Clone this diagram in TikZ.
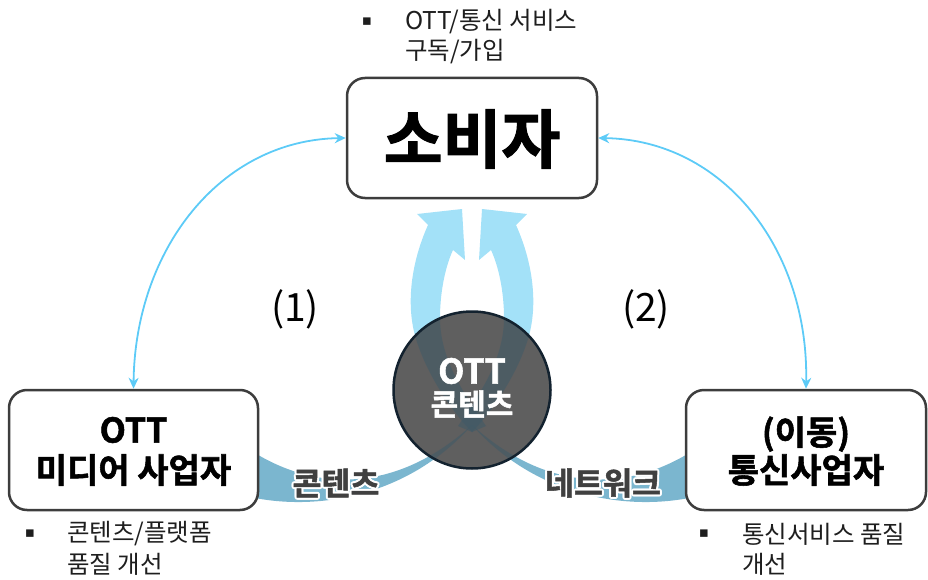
\documentclass[tikz,border=0pt]{standalone}
\usepackage{fontspec}
\setmainfont{Noto Sans CJK KR}[BoldFont={Noto Sans CJK KR Bold}]
\newfontfamily\myheavy{Noto Sans CJK KR Bold}[FakeBold=1.6]
\newfontfamily\dejavu{DejaVu Sans}
\usetikzlibrary{arrows.meta}
\definecolor{boxline}{HTML}{3D3D3D}
\definecolor{uparrow}{HTML}{A3E1F8}
\definecolor{bandcol}{HTML}{7BB6CF}
\definecolor{thinarrow}{HTML}{5DCBF7}
\definecolor{circfill}{HTML}{5F5F5F}
\definecolor{circline}{HTML}{13222F}
\definecolor{inband}{HTML}{3F5A68}
\definecolor{txt}{HTML}{1E1E1E}
\definecolor{lbl}{HTML}{404040}
\newcommand\myBandL{(250,450) .. controls (320,495) and (400,490) .. (472,425) .. controls (410,495) and (320,512) .. (250,497) -- cycle}
\newcommand\myBandR{(694,450) .. controls (624,495) and (544,490) .. (472,425) .. controls (534,495) and (624,512) .. (694,497) -- cycle}
\newcommand\myUpL{(428,225) .. controls (410,265) and (405,310) .. (418,345) .. controls (430,380) and (455,415) .. (472,432) -- (486,426) .. controls (465,395) and (440,360) .. (440,318) .. controls (440,290) and (446,265) .. (453,250) -- (465,260) -- (462,209) -- (417,214) -- cycle}
\newcommand\myUpR{(516,225) .. controls (534,265) and (539,310) .. (526,345) .. controls (514,380) and (489,415) .. (472,432) -- (458,426) .. controls (479,395) and (504,360) .. (504,318) .. controls (504,290) and (498,265) .. (491,250) -- (479,260) -- (482,209) -- (527,214) -- cycle}
\tikzset{
  mainbox/.style={draw=boxline, line width=2.5pt, rounded corners=18pt, fill=white, inner sep=0pt, align=center, text=black},
  boxtext/.style={font=\myheavy\fontsize{34}{40}\selectfont},
  bullettext/.style={font=\fontsize{24.5}{28}\selectfont, text=txt, anchor=west, inner sep=0pt},
  bulletmark/.style={font=\dejavu\fontsize{15}{18}\selectfont, text=txt, inner sep=0pt},
  bandlbl/.style={font=\myheavy\fontsize{31.5}{34}\selectfont, text=lbl, inner sep=0pt},
  numlbl/.style={font=\fontsize{39}{42}\selectfont, text=black, inner sep=0pt},
  dbl/.style={draw=thinarrow, line width=1.8pt, {Stealth[length=11pt,width=10pt]}-{Stealth[length=11pt,width=10pt]}}
}
\begin{document}
\begin{tikzpicture}[x=1pt,y=-1pt]
\useasboundingbox (0,0) rectangle (928,580);
% bands and arrows under everything
\fill[bandcol] \myBandL;
\fill[bandcol] \myBandR;
\fill[uparrow] \myUpL;
\fill[uparrow] \myUpR;
% boxes
\node[mainbox, minimum width=250pt, minimum height=120pt] (cons) at (472,138) {};
\node[font=\myheavy\fontsize{64}{66}\selectfont, inner sep=0pt] (consT) at (472,139) {소비자};
\node[mainbox, minimum width=249pt, minimum height=120pt] (ott) at (133.5,450) {};
\node[boxtext, inner sep=0pt] (ottA) at (133.5,430) {OTT};
\node[boxtext, inner sep=0pt] (ottB) at (133.5,470) {미디어 사업자};
\node[mainbox, minimum width=240pt, minimum height=120pt] (tel) at (806,450) {};
\node[boxtext, inner sep=0pt] (telA) at (806,434) {(이동)};
\node[boxtext, inner sep=0pt] (telB) at (806,470) {통신사업자};
% circle
\node[circle, fill=circfill, minimum size=157pt, inner sep=0pt] (circ) at (472,390) {};
\begin{scope}
  \clip (circ.center) circle (78pt);
  \fill[inband, opacity=0.55] \myBandL;
  \fill[inband, opacity=0.55] \myBandR;
  \fill[inband, opacity=0.55] \myUpL;
  \fill[inband, opacity=0.55] \myUpR;
\end{scope}
\draw[circline, line width=2.5pt] (circ.center) circle (78.5pt);
\node[font=\myheavy\fontsize{34}{36}\selectfont, text=white, inner sep=0pt] (circA) at (472,371) {OTT};
\node[font=\myheavy\fontsize{30}{32}\selectfont, text=white, inner sep=0pt] (circB) at (472,404) {콘텐츠};
% thin double arrows
\draw[dbl] (cons.west) .. controls (220,140) and (135,250) .. (ott.north);
\draw[dbl] (cons.east) .. controls (724,140) and (809,250) .. (tel.north);
% band labels with halo
\foreach \a in {0,30,...,330} {
  \node[bandlbl, text=white] (hL\a) at ([shift={(\a:2pt)}]336,483) {콘텐츠};
  \node[bandlbl, text=white] (hR\a) at ([shift={(\a:2pt)}]603,483) {네트워크};
}
\node[bandlbl] (lblL) at (336,483) {콘텐츠};
\node[bandlbl] (lblR) at (603,483) {네트워크};
% numbers
\node[numlbl] (n1) at (295,309) {(1)};
\node[numlbl] (n2) at (646,309) {(2)};
% bullets
\node[bulletmark] (b1) at (367,22) {▪};
\node[bullettext] (t1a) at (405,22) {OTT/통신 서비스};
\node[bullettext] (t1b) at (405,52) {구독/가입};
\node[bulletmark] (b2) at (30,534) {▪};
\node[bullettext] (t2a) at (67,534) {콘텐츠/플랫폼};
\node[bullettext] (t2b) at (67,564) {품질 개선};
\node[bulletmark] (b3) at (704,534) {▪};
\node[bullettext] (t3a) at (742,534) {통신서비스 품질};
\node[bullettext] (t3b) at (742,564) {개선};
\end{tikzpicture}
\end{document}
